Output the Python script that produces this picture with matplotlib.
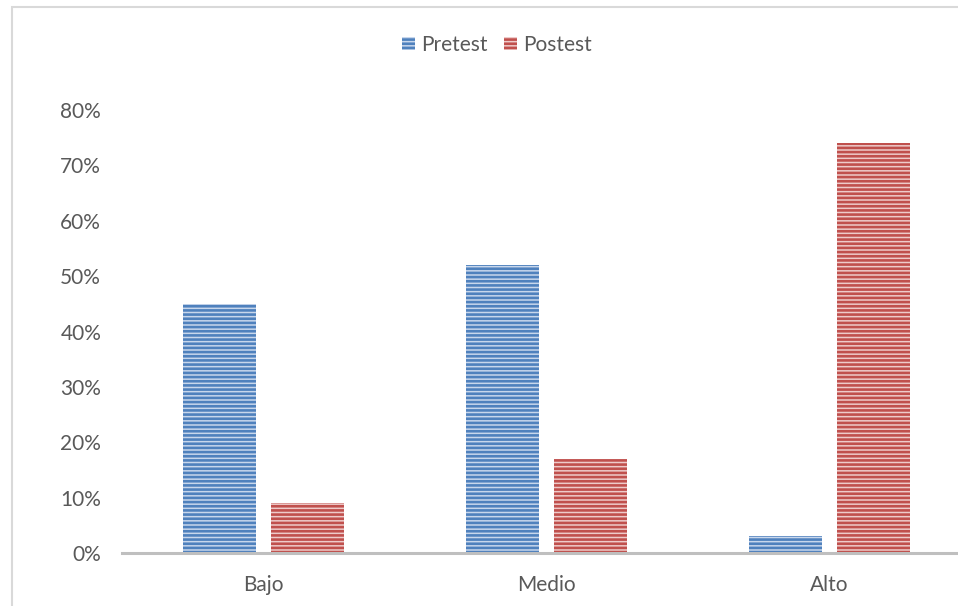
import numpy as np
import matplotlib.pyplot as plt
from matplotlib.patches import Rectangle

categorias = ['Bajo', 'Medio', 'Alto']
pretest = [45, 52, 3]
postest = [9, 17, 74]
yticks = [0, 10, 20, 30, 40, 50, 60, 70, 80]

plt.rcParams['font.family'] = ['Lato', 'DejaVu Sans']
plt.rcParams['hatch.linewidth'] = 1.9

W, H = 958, 606
fig = plt.figure(figsize=(W / 100, H / 100), dpi=100)

# marco del area del grafico
fig.patches.append(Rectangle((12 / W, -0.1), 1.2, (H - 7) / H + 0.1,
                             transform=fig.transFigure, fill=False,
                             edgecolor='#d9d9d9', linewidth=1.5))

ax = fig.add_axes([122 / W, (H - 553) / H, (971 - 122) / W, (553 - 110) / H])

x = np.arange(len(categorias))
ancho = 0.258
desp = 0.157
ax.bar(x - desp, pretest, ancho, color='#c8d7ec', edgecolor='#4f81bd',
       linewidth=0, hatch='----', label='Pretest')
ax.bar(x + desp, postest, ancho, color='#eecbca', edgecolor='#c0504d',
       linewidth=0, hatch='----', label='Postest')

ax.set_xlim(-0.5, 2.5)
ax.set_ylim(0, 80)
ax.set_yticks(yticks)
ax.set_yticklabels([f'{v}%' for v in yticks])
ax.set_xticks(x)
ax.set_xticklabels(categorias)

for s in ['top', 'right', 'left']:
    ax.spines[s].set_visible(False)
ax.spines['bottom'].set_color('#bfbfbf')
ax.spines['bottom'].set_linewidth(2.2)
ax.tick_params(axis='y', length=0, pad=15, labelsize=15, labelcolor='#595959')
ax.tick_params(axis='x', length=0, pad=16, labelsize=15, labelcolor='#595959')

fig.legend(loc='center', bbox_to_anchor=(497 / W, 1 - 45 / H), ncol=2,
           frameon=False, fontsize=15, labelcolor='#595959',
           handlelength=0.6, handleheight=0.6, handletextpad=0.3,
           columnspacing=0.8)

fig.savefig('out.png', dpi=100)
